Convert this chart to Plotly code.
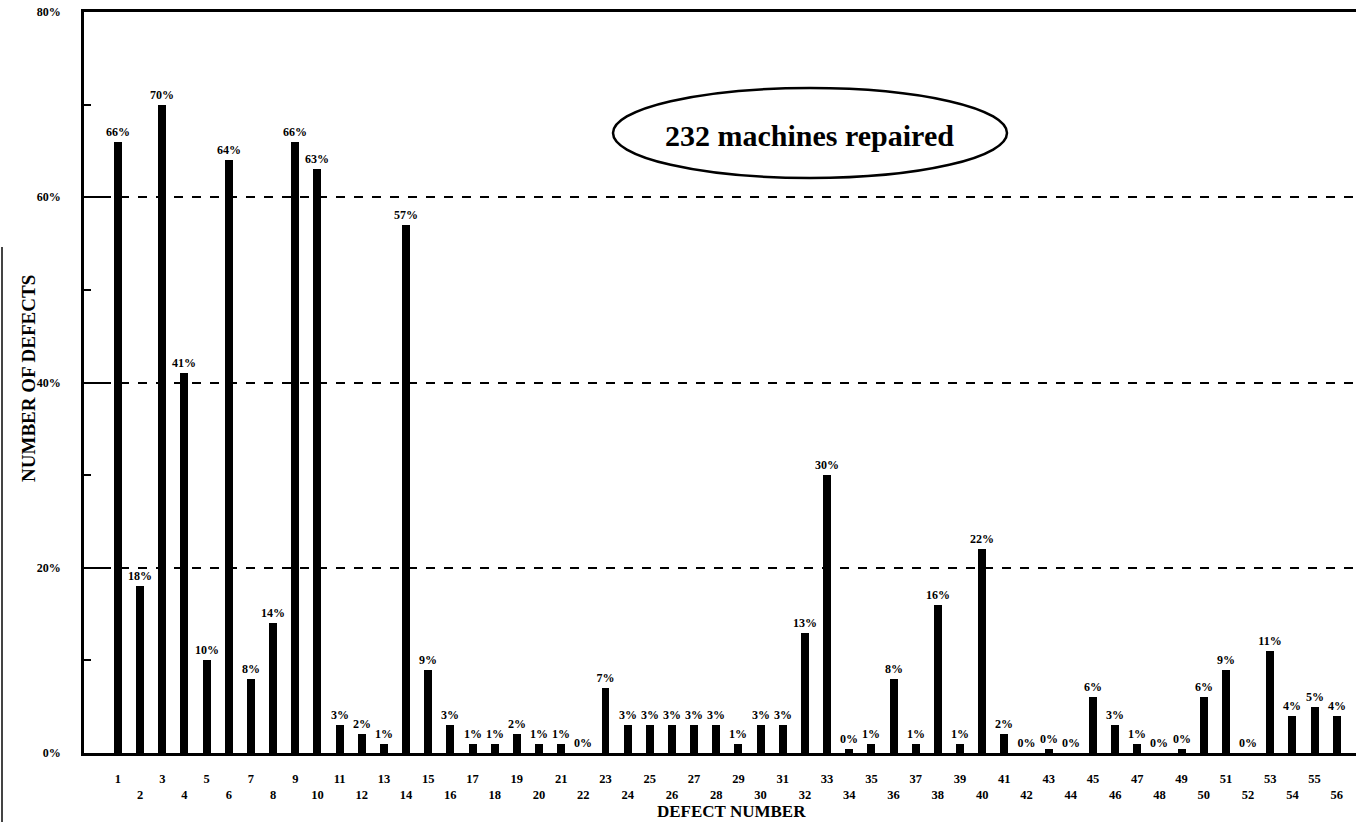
import plotly.graph_objects as go

# Defect frequency, percent of repaired machines, per defect number
defect_numbers = list(range(1, 57))
defect_pct = [
    66, 18, 70, 41, 10, 64, 8, 14, 66, 63,
    3, 2, 1, 57, 9, 3, 1, 1, 2, 1,
    1, 0, 7, 3, 3, 3, 3, 3, 1, 3,
    3, 13, 30, 0.4, 1, 8, 1, 16, 1, 22,
    2, 0, 0.4, 0, 6, 3, 1, 0, 0.4, 6,
    9, 0, 11, 4, 5, 4,
]
y_ticks = [0, 20, 40, 60, 80]
y_ticklabels = ["0%", "20%", "40%", "60%", "80%"]
y_minor = [10, 30, 50, 70]
machines_repaired = 232

W, H = 1356, 822
ML, MR, MT, MB = 84, 0, 12, 69
PW, PH = W - ML - MR, H - MT - MB

SERIF = "Liberation Serif"


def px_to_paper(px, py):
    return (px - ML) / PW, (H - MB - py) / PH


# staggered tick labels: odd numbers on the first row, even on the second
x_ticktext = [str(n) if n % 2 else "<br>" + str(n) for n in defect_numbers]

fig = go.Figure(
    go.Bar(
        x=defect_numbers,
        y=defect_pct,
        width=0.36,
        marker=dict(color="black", line=dict(width=0)),
        texttemplate="%{y:.0f}%",
        textposition="outside",
        constraintext="none",
        cliponaxis=False,
        textfont=dict(family=SERIF, size=12, color="black", weight="bold"),
        hoverinfo="skip",
    )
)

fig.update_layout(
    width=W,
    height=H,
    margin=dict(l=ML, r=MR, t=MT, b=MB, pad=0),
    paper_bgcolor="white",
    plot_bgcolor="white",
    showlegend=False,
    bargap=0,
    xaxis=dict(
        range=[-0.534, 56.87],
        tickvals=defect_numbers,
        ticktext=x_ticktext,
        ticks="",
        ticklabelstandoff=12,
        tickfont=dict(family=SERIF, size=12.5, color="black", weight="bold"),
        showline=True,
        linecolor="black",
        linewidth=3,
        mirror=True,
        showgrid=False,
        zeroline=False,
        fixedrange=True,
    ),
    yaxis=dict(
        range=[0, 80],
        tickvals=y_ticks,
        ticktext=y_ticklabels,
        ticks="inside",
        ticklen=22,
        tickwidth=1.5,
        tickcolor="black",
        ticklabelstandoff=18,
        tickfont=dict(family=SERIF, size=12, color="black", weight="bold"),
        minor=dict(tickvals=y_minor, ticks="inside", ticklen=7,
                   tickwidth=1.5, tickcolor="black", showgrid=False),
        showline=True,
        linecolor="black",
        linewidth=2.5,
        mirror=False,
        showgrid=True,
        gridcolor="black",
        gridwidth=1.5,
        griddash="dash",
        zeroline=False,
        fixedrange=True,
    ),
)

# axis titles
tx, ty = px_to_paper(731, 811)
fig.add_annotation(
    x=tx, y=ty, xref="paper", yref="paper", showarrow=False,
    text="DEFECT NUMBER", xanchor="center", yanchor="middle",
    font=dict(family=SERIF, size=17, color="black", weight="bold"),
)
lx, ly = px_to_paper(28, 379)
fig.add_annotation(
    x=lx, y=ly, xref="paper", yref="paper", showarrow=False,
    text="NUMBER OF DEFECTS", textangle=-90, xanchor="center", yanchor="middle",
    font=dict(family=SERIF, size=19, color="black", weight="bold"),
)

# callout with the machine count
ex0, ey0 = px_to_paper(613, 178)
ex1, ey1 = px_to_paper(1007, 88)
fig.add_shape(
    type="circle", xref="paper", yref="paper",
    x0=ex0, y0=ey0, x1=ex1, y1=ey1,
    line=dict(color="black", width=2.5), fillcolor="rgba(0,0,0,0)",
)
cx, cy = px_to_paper(809, 135)
fig.add_annotation(
    x=cx, y=cy, xref="paper", yref="paper", showarrow=False,
    text=f"{machines_repaired} machines repaired",
    xanchor="center", yanchor="middle",
    font=dict(family=SERIF, size=30, color="black", weight="bold"),
)

# page edge line at the far left
sx, sy0 = px_to_paper(2, 247)
_, sy1 = px_to_paper(2, 822)
fig.add_shape(
    type="line", xref="paper", yref="paper",
    x0=sx, x1=sx, y0=sy0, y1=sy1,
    line=dict(color="#444444", width=2),
)

fig.write_html("out.html")
